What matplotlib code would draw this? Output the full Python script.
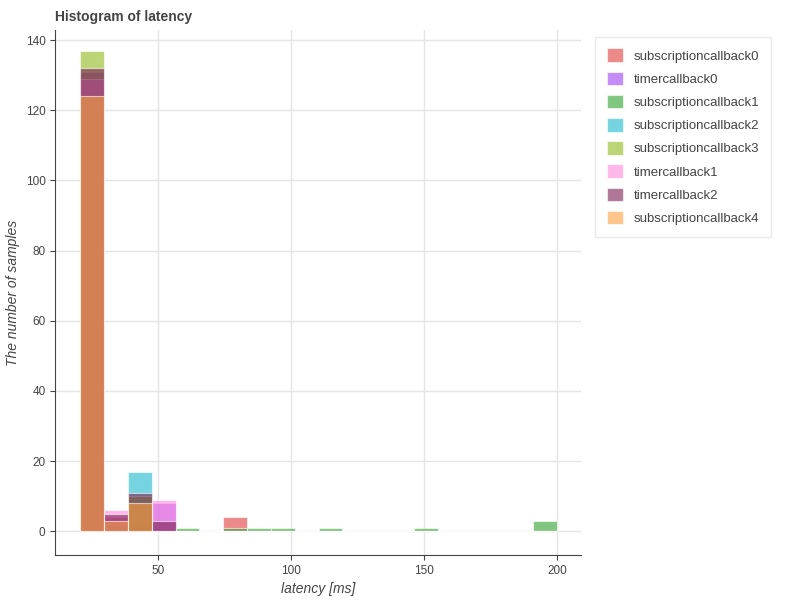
import matplotlib
matplotlib.use("Agg")
import matplotlib.pyplot as plt
import numpy as np

edges = 20.7 + np.arange(21) * 8.965
names = ["subscriptioncallback0", "timercallback0", "subscriptioncallback1", "subscriptioncallback2",
         "subscriptioncallback3", "timercallback1", "timercallback2", "subscriptioncallback4"]
colors = ["#e03c3c", "#9b40f0", "#2ca02c", "#1ab8cc", "#8fb81a", "#ff88dd", "#7a1f55", "#ffa040"]
# counts per bin (20 bins)
counts = {
    "subscriptioncallback0": [124, 4, 2, 0, 0, 0, 4, 0, 0, 0, 0, 0, 0, 0, 0, 0, 0, 0, 0, 0],
    "timercallback0":        [131, 3, 0, 8, 0, 0, 0, 0, 0, 0, 0, 0, 0, 0, 0, 0, 0, 0, 0, 0],
    "subscriptioncallback1": [124, 0, 0, 0, 1, 0, 1, 1, 1, 0, 1, 0, 0, 0, 1, 0, 0, 0, 0, 3],
    "subscriptioncallback2": [124, 2, 17, 0, 0, 0, 0, 0, 0, 0, 0, 0, 0, 0, 0, 0, 0, 0, 0, 0],
    "subscriptioncallback3": [137, 0, 10, 0, 0, 0, 0, 0, 0, 0, 0, 0, 0, 0, 0, 0, 0, 0, 0, 0],
    "timercallback1":        [129, 6, 0, 9, 0, 0, 0, 0, 0, 0, 0, 0, 0, 0, 0, 0, 0, 0, 0, 0],
    "timercallback2":        [132, 5, 11, 3, 0, 0, 0, 0, 0, 0, 0, 0, 0, 0, 0, 0, 0, 0, 0, 0],
    "subscriptioncallback4": [124, 3, 8, 0, 0, 0, 0, 0, 0, 0, 0, 0, 0, 0, 0, 0, 0, 0, 0, 0],
}

plt.rcParams["font.family"] = "Liberation Sans"
fig = plt.figure(figsize=(8, 6), dpi=100)
ax = fig.add_axes([0.069, 0.075, 0.657, 0.875])
for n, c in zip(names, colors):
    ax.bar(edges[:-1], counts[n], width=np.diff(edges), align="edge", color=c, alpha=0.6,
           edgecolor="white", linewidth=0.8, label=n)
ax.set_xlim(11.3, 209)
ax.set_ylim(-6.8, 142.9)
ax.set_xticks([50, 100, 150, 200])
ax.set_yticks(range(0, 141, 20))
ax.grid(color="#e5e5e5", linewidth=1)
ax.set_axisbelow(True)
for s in ["top", "right"]:
    ax.spines[s].set_visible(False)
for s in ["left", "bottom"]:
    ax.spines[s].set_color("#444444")
ax.tick_params(labelsize=8.5, colors="#444444")
ax.set_xlabel("latency [ms]", fontstyle="italic", fontsize=10, color="#444444")
ax.set_ylabel("The number of samples", fontstyle="italic", fontsize=10, color="#444444")
fig.text(0.069, 0.965, "Histogram of latency", fontweight="bold", fontsize=10, color="#444444")
leg = ax.legend(loc="upper left", bbox_to_anchor=(1.015, 1.0), fontsize=9.5, frameon=True,
                fancybox=False, edgecolor="#e5e5e5", borderpad=0.9, labelspacing=0.68,
                handlelength=1.2, handleheight=1.2)
for t in leg.get_texts():
    t.set_color("#444444")
fig.savefig("out.png")
